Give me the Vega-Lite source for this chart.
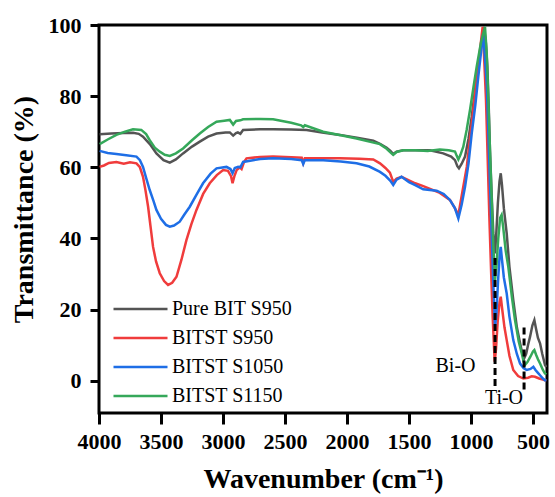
{
  "$schema": "https://vega.github.io/schema/vega-lite/v6.json",
  "width": 448,
  "height": 388,
  "autosize": {"type": "none"},
  "padding": {"left": 99, "top": 25, "right": 8, "bottom": 84},
  "background": "white",
  "config": {
    "view": {"stroke": "black", "strokeWidth": 3},
    "font": "Times New Roman, Liberation Serif, serif",
    "axis": {
      "labelFont": "Times New Roman, Liberation Serif, serif",
      "labelFontWeight": "bold",
      "labelFontSize": 22,
      "labelColor": "black",
      "titleFont": "Times New Roman, Liberation Serif, serif",
      "titleFontWeight": "bold",
      "titleFontSize": 28,
      "titleColor": "black",
      "domain": false,
      "grid": false,
      "tickColor": "black",
      "tickWidth": 3
    },
    "legend": {
      "labelFont": "Times New Roman, Liberation Serif, serif",
      "labelFontSize": 20,
      "labelColor": "black"
    }
  },
  "datasets": {
    "spectra": [
      {"series": "Pure BIT S950", "wn": 3995, "t": 69.3},
      {"series": "Pure BIT S950", "wn": 3900, "t": 69.5},
      {"series": "Pure BIT S950", "wn": 3800, "t": 69.6},
      {"series": "Pure BIT S950", "wn": 3726, "t": 69.7},
      {"series": "Pure BIT S950", "wn": 3680, "t": 69.4},
      {"series": "Pure BIT S950", "wn": 3645, "t": 68.6},
      {"series": "Pure BIT S950", "wn": 3590, "t": 66.5},
      {"series": "Pure BIT S950", "wn": 3537, "t": 63.9},
      {"series": "Pure BIT S950", "wn": 3480, "t": 62.0},
      {"series": "Pure BIT S950", "wn": 3429, "t": 61.3},
      {"series": "Pure BIT S950", "wn": 3380, "t": 62.2},
      {"series": "Pure BIT S950", "wn": 3322, "t": 63.9},
      {"series": "Pure BIT S950", "wn": 3250, "t": 65.8},
      {"series": "Pure BIT S950", "wn": 3187, "t": 67.2},
      {"series": "Pure BIT S950", "wn": 3120, "t": 68.6},
      {"series": "Pure BIT S950", "wn": 3052, "t": 69.5},
      {"series": "Pure BIT S950", "wn": 2980, "t": 69.8},
      {"series": "Pure BIT S950", "wn": 2945, "t": 69.8},
      {"series": "Pure BIT S950", "wn": 2918, "t": 68.9},
      {"series": "Pure BIT S950", "wn": 2895, "t": 69.6},
      {"series": "Pure BIT S950", "wn": 2880, "t": 69.8},
      {"series": "Pure BIT S950", "wn": 2860, "t": 69.4},
      {"series": "Pure BIT S950", "wn": 2838, "t": 70.5},
      {"series": "Pure BIT S950", "wn": 2700, "t": 70.7},
      {"series": "Pure BIT S950", "wn": 2596, "t": 70.7},
      {"series": "Pure BIT S950", "wn": 2450, "t": 70.6},
      {"series": "Pure BIT S950", "wn": 2326, "t": 70.5},
      {"series": "Pure BIT S950", "wn": 2200, "t": 69.8},
      {"series": "Pure BIT S950", "wn": 2057, "t": 69.1},
      {"series": "Pure BIT S950", "wn": 1920, "t": 68.3},
      {"series": "Pure BIT S950", "wn": 1788, "t": 67.5},
      {"series": "Pure BIT S950", "wn": 1734, "t": 66.6},
      {"series": "Pure BIT S950", "wn": 1680, "t": 65.5},
      {"series": "Pure BIT S950", "wn": 1650, "t": 64.6},
      {"series": "Pure BIT S950", "wn": 1627, "t": 63.7},
      {"series": "Pure BIT S950", "wn": 1600, "t": 64.4},
      {"series": "Pure BIT S950", "wn": 1546, "t": 64.8},
      {"series": "Pure BIT S950", "wn": 1450, "t": 64.8},
      {"series": "Pure BIT S950", "wn": 1331, "t": 64.8},
      {"series": "Pure BIT S950", "wn": 1224, "t": 63.9},
      {"series": "Pure BIT S950", "wn": 1160, "t": 63.0},
      {"series": "Pure BIT S950", "wn": 1129, "t": 62.0},
      {"series": "Pure BIT S950", "wn": 1110, "t": 60.3},
      {"series": "Pure BIT S950", "wn": 1097, "t": 59.7},
      {"series": "Pure BIT S950", "wn": 1075, "t": 61.0},
      {"series": "Pure BIT S950", "wn": 1048, "t": 63.0},
      {"series": "Pure BIT S950", "wn": 1020, "t": 68.0},
      {"series": "Pure BIT S950", "wn": 994, "t": 74.2},
      {"series": "Pure BIT S950", "wn": 970, "t": 81.0},
      {"series": "Pure BIT S950", "wn": 941, "t": 88.3},
      {"series": "Pure BIT S950", "wn": 915, "t": 95.0},
      {"series": "Pure BIT S950", "wn": 895, "t": 99.5},
      {"series": "Pure BIT S950", "wn": 880, "t": 95.0},
      {"series": "Pure BIT S950", "wn": 868, "t": 88.3},
      {"series": "Pure BIT S950", "wn": 857, "t": 77.0},
      {"series": "Pure BIT S950", "wn": 847, "t": 64.8},
      {"series": "Pure BIT S950", "wn": 833, "t": 52.0},
      {"series": "Pure BIT S950", "wn": 820, "t": 41.4},
      {"series": "Pure BIT S950", "wn": 806, "t": 35.8},
      {"series": "Pure BIT S950", "wn": 795, "t": 42.0},
      {"series": "Pure BIT S950", "wn": 783, "t": 50.0},
      {"series": "Pure BIT S950", "wn": 770, "t": 56.0},
      {"series": "Pure BIT S950", "wn": 760, "t": 58.3},
      {"series": "Pure BIT S950", "wn": 750, "t": 55.0},
      {"series": "Pure BIT S950", "wn": 735, "t": 48.5},
      {"series": "Pure BIT S950", "wn": 712, "t": 41.4},
      {"series": "Pure BIT S950", "wn": 690, "t": 32.0},
      {"series": "Pure BIT S950", "wn": 659, "t": 22.6},
      {"series": "Pure BIT S950", "wn": 630, "t": 15.0},
      {"series": "Pure BIT S950", "wn": 604, "t": 10.5},
      {"series": "Pure BIT S950", "wn": 585, "t": 7.5},
      {"series": "Pure BIT S950", "wn": 572, "t": 6.2},
      {"series": "Pure BIT S950", "wn": 555, "t": 7.5},
      {"series": "Pure BIT S950", "wn": 540, "t": 10.0},
      {"series": "Pure BIT S950", "wn": 524, "t": 12.3},
      {"series": "Pure BIT S950", "wn": 505, "t": 15.5},
      {"series": "Pure BIT S950", "wn": 489, "t": 17.0},
      {"series": "Pure BIT S950", "wn": 475, "t": 14.5},
      {"series": "Pure BIT S950", "wn": 460, "t": 12.0},
      {"series": "Pure BIT S950", "wn": 443, "t": 10.5},
      {"series": "Pure BIT S950", "wn": 425, "t": 7.5},
      {"series": "Pure BIT S950", "wn": 403, "t": 4.4},
      {"series": "Pure BIT S950", "wn": 392, "t": 3.8},

      {"series": "BITST S950", "wn": 3995, "t": 60.1},
      {"series": "BITST S950", "wn": 3960, "t": 60.5},
      {"series": "BITST S950", "wn": 3920, "t": 61.2},
      {"series": "BITST S950", "wn": 3860, "t": 61.5},
      {"series": "BITST S950", "wn": 3800, "t": 61.0},
      {"series": "BITST S950", "wn": 3750, "t": 61.4},
      {"series": "BITST S950", "wn": 3698, "t": 61.1},
      {"series": "BITST S950", "wn": 3670, "t": 60.0},
      {"series": "BITST S950", "wn": 3645, "t": 57.3},
      {"series": "BITST S950", "wn": 3625, "t": 53.5},
      {"series": "BITST S950", "wn": 3604, "t": 48.9},
      {"series": "BITST S950", "wn": 3585, "t": 43.5},
      {"series": "BITST S950", "wn": 3564, "t": 37.6},
      {"series": "BITST S950", "wn": 3540, "t": 33.5},
      {"series": "BITST S950", "wn": 3510, "t": 30.2},
      {"series": "BITST S950", "wn": 3475, "t": 28.0},
      {"series": "BITST S950", "wn": 3443, "t": 26.9},
      {"series": "BITST S950", "wn": 3410, "t": 27.5},
      {"series": "BITST S950", "wn": 3375, "t": 29.2},
      {"series": "BITST S950", "wn": 3335, "t": 34.0},
      {"series": "BITST S950", "wn": 3295, "t": 39.5},
      {"series": "BITST S950", "wn": 3255, "t": 44.0},
      {"series": "BITST S950", "wn": 3214, "t": 48.0},
      {"series": "BITST S950", "wn": 3160, "t": 52.5},
      {"series": "BITST S950", "wn": 3107, "t": 55.5},
      {"series": "BITST S950", "wn": 3050, "t": 57.8},
      {"series": "BITST S950", "wn": 2999, "t": 59.2},
      {"series": "BITST S950", "wn": 2960, "t": 59.0},
      {"series": "BITST S950", "wn": 2935, "t": 57.5},
      {"series": "BITST S950", "wn": 2923, "t": 55.5},
      {"series": "BITST S950", "wn": 2908, "t": 57.5},
      {"series": "BITST S950", "wn": 2890, "t": 59.2},
      {"series": "BITST S950", "wn": 2865, "t": 60.0},
      {"series": "BITST S950", "wn": 2850, "t": 59.5},
      {"series": "BITST S950", "wn": 2830, "t": 61.5},
      {"series": "BITST S950", "wn": 2810, "t": 62.5},
      {"series": "BITST S950", "wn": 2700, "t": 62.9},
      {"series": "BITST S950", "wn": 2596, "t": 63.0},
      {"series": "BITST S950", "wn": 2450, "t": 62.8},
      {"series": "BITST S950", "wn": 2365, "t": 62.7},
      {"series": "BITST S950", "wn": 2353, "t": 61.2},
      {"series": "BITST S950", "wn": 2340, "t": 62.5},
      {"series": "BITST S950", "wn": 2200, "t": 62.5},
      {"series": "BITST S950", "wn": 2057, "t": 62.5},
      {"series": "BITST S950", "wn": 1900, "t": 62.4},
      {"series": "BITST S950", "wn": 1788, "t": 62.2},
      {"series": "BITST S950", "wn": 1734, "t": 61.1},
      {"series": "BITST S950", "wn": 1690, "t": 59.8},
      {"series": "BITST S950", "wn": 1654, "t": 58.5},
      {"series": "BITST S950", "wn": 1627, "t": 55.9},
      {"series": "BITST S950", "wn": 1600, "t": 56.8},
      {"series": "BITST S950", "wn": 1560, "t": 57.3},
      {"series": "BITST S950", "wn": 1450, "t": 55.5},
      {"series": "BITST S950", "wn": 1385, "t": 54.7},
      {"series": "BITST S950", "wn": 1251, "t": 52.8},
      {"series": "BITST S950", "wn": 1170, "t": 50.8},
      {"series": "BITST S950", "wn": 1130, "t": 48.5},
      {"series": "BITST S950", "wn": 1102, "t": 46.6},
      {"series": "BITST S950", "wn": 1070, "t": 53.0},
      {"series": "BITST S950", "wn": 1034, "t": 60.1},
      {"series": "BITST S950", "wn": 1008, "t": 68.0},
      {"series": "BITST S950", "wn": 981, "t": 76.1},
      {"series": "BITST S950", "wn": 955, "t": 85.0},
      {"series": "BITST S950", "wn": 927, "t": 93.0},
      {"series": "BITST S950", "wn": 906, "t": 99.5},
      {"series": "BITST S950", "wn": 893, "t": 90.0},
      {"series": "BITST S950", "wn": 879, "t": 78.9},
      {"series": "BITST S950", "wn": 865, "t": 62.0},
      {"series": "BITST S950", "wn": 852, "t": 46.1},
      {"series": "BITST S950", "wn": 838, "t": 31.0},
      {"series": "BITST S950", "wn": 825, "t": 17.9},
      {"series": "BITST S950", "wn": 809, "t": 5.3},
      {"series": "BITST S950", "wn": 798, "t": 9.0},
      {"series": "BITST S950", "wn": 785, "t": 16.5},
      {"series": "BITST S950", "wn": 770, "t": 22.0},
      {"series": "BITST S950", "wn": 760, "t": 23.6},
      {"series": "BITST S950", "wn": 748, "t": 20.0},
      {"series": "BITST S950", "wn": 730, "t": 15.0},
      {"series": "BITST S950", "wn": 712, "t": 11.4},
      {"series": "BITST S950", "wn": 690, "t": 7.0},
      {"series": "BITST S950", "wn": 659, "t": 3.0},
      {"series": "BITST S950", "wn": 620, "t": 1.3},
      {"series": "BITST S950", "wn": 578, "t": 0.6},
      {"series": "BITST S950", "wn": 540, "t": 0.8},
      {"series": "BITST S950", "wn": 510, "t": 1.2},
      {"series": "BITST S950", "wn": 484, "t": 1.1},
      {"series": "BITST S950", "wn": 450, "t": 0.6},
      {"series": "BITST S950", "wn": 420, "t": 0.3},
      {"series": "BITST S950", "wn": 403, "t": 0.1},
      {"series": "BITST S950", "wn": 392, "t": 0.0},

      {"series": "BITST S1050", "wn": 3995, "t": 64.6},
      {"series": "BITST S1050", "wn": 3930, "t": 64.0},
      {"series": "BITST S1050", "wn": 3860, "t": 63.7},
      {"series": "BITST S1050", "wn": 3780, "t": 63.4},
      {"series": "BITST S1050", "wn": 3698, "t": 63.0},
      {"series": "BITST S1050", "wn": 3670, "t": 62.0},
      {"series": "BITST S1050", "wn": 3645, "t": 60.1},
      {"series": "BITST S1050", "wn": 3620, "t": 57.0},
      {"series": "BITST S1050", "wn": 3591, "t": 53.6},
      {"series": "BITST S1050", "wn": 3560, "t": 50.5},
      {"series": "BITST S1050", "wn": 3537, "t": 48.0},
      {"series": "BITST S1050", "wn": 3500, "t": 45.5},
      {"series": "BITST S1050", "wn": 3460, "t": 43.8},
      {"series": "BITST S1050", "wn": 3429, "t": 43.3},
      {"series": "BITST S1050", "wn": 3395, "t": 43.6},
      {"series": "BITST S1050", "wn": 3349, "t": 44.7},
      {"series": "BITST S1050", "wn": 3310, "t": 46.8},
      {"series": "BITST S1050", "wn": 3268, "t": 48.9},
      {"series": "BITST S1050", "wn": 3210, "t": 52.5},
      {"series": "BITST S1050", "wn": 3161, "t": 55.5},
      {"series": "BITST S1050", "wn": 3100, "t": 58.2},
      {"series": "BITST S1050", "wn": 3052, "t": 59.7},
      {"series": "BITST S1050", "wn": 2972, "t": 60.1},
      {"series": "BITST S1050", "wn": 2940, "t": 59.5},
      {"series": "BITST S1050", "wn": 2923, "t": 58.3},
      {"series": "BITST S1050", "wn": 2905, "t": 59.8},
      {"series": "BITST S1050", "wn": 2878, "t": 60.1},
      {"series": "BITST S1050", "wn": 2860, "t": 60.0},
      {"series": "BITST S1050", "wn": 2838, "t": 61.5},
      {"series": "BITST S1050", "wn": 2700, "t": 62.3},
      {"series": "BITST S1050", "wn": 2596, "t": 62.5},
      {"series": "BITST S1050", "wn": 2450, "t": 62.3},
      {"series": "BITST S1050", "wn": 2365, "t": 62.0},
      {"series": "BITST S1050", "wn": 2353, "t": 60.9},
      {"series": "BITST S1050", "wn": 2340, "t": 62.0},
      {"series": "BITST S1050", "wn": 2192, "t": 62.0},
      {"series": "BITST S1050", "wn": 2050, "t": 61.6},
      {"series": "BITST S1050", "wn": 1923, "t": 61.1},
      {"series": "BITST S1050", "wn": 1820, "t": 60.2},
      {"series": "BITST S1050", "wn": 1734, "t": 58.7},
      {"series": "BITST S1050", "wn": 1690, "t": 57.6},
      {"series": "BITST S1050", "wn": 1650, "t": 56.2},
      {"series": "BITST S1050", "wn": 1627, "t": 55.0},
      {"series": "BITST S1050", "wn": 1600, "t": 56.5},
      {"series": "BITST S1050", "wn": 1560, "t": 57.3},
      {"series": "BITST S1050", "wn": 1500, "t": 55.8},
      {"series": "BITST S1050", "wn": 1450, "t": 55.0},
      {"series": "BITST S1050", "wn": 1385, "t": 53.8},
      {"series": "BITST S1050", "wn": 1277, "t": 53.4},
      {"series": "BITST S1050", "wn": 1220, "t": 52.5},
      {"series": "BITST S1050", "wn": 1170, "t": 50.8},
      {"series": "BITST S1050", "wn": 1130, "t": 48.5},
      {"series": "BITST S1050", "wn": 1102, "t": 45.6},
      {"series": "BITST S1050", "wn": 1075, "t": 49.5},
      {"series": "BITST S1050", "wn": 1048, "t": 54.5},
      {"series": "BITST S1050", "wn": 1020, "t": 61.0},
      {"series": "BITST S1050", "wn": 994, "t": 69.5},
      {"series": "BITST S1050", "wn": 965, "t": 77.5},
      {"series": "BITST S1050", "wn": 941, "t": 85.5},
      {"series": "BITST S1050", "wn": 920, "t": 92.0},
      {"series": "BITST S1050", "wn": 901, "t": 97.7},
      {"series": "BITST S1050", "wn": 888, "t": 91.0},
      {"series": "BITST S1050", "wn": 873, "t": 83.6},
      {"series": "BITST S1050", "wn": 860, "t": 70.0},
      {"series": "BITST S1050", "wn": 847, "t": 55.5},
      {"series": "BITST S1050", "wn": 833, "t": 41.0},
      {"series": "BITST S1050", "wn": 820, "t": 27.3},
      {"series": "BITST S1050", "wn": 806, "t": 15.1},
      {"series": "BITST S1050", "wn": 795, "t": 19.0},
      {"series": "BITST S1050", "wn": 780, "t": 29.0},
      {"series": "BITST S1050", "wn": 768, "t": 35.8},
      {"series": "BITST S1050", "wn": 760, "t": 37.6},
      {"series": "BITST S1050", "wn": 750, "t": 34.0},
      {"series": "BITST S1050", "wn": 735, "t": 29.0},
      {"series": "BITST S1050", "wn": 712, "t": 24.5},
      {"series": "BITST S1050", "wn": 690, "t": 18.0},
      {"series": "BITST S1050", "wn": 659, "t": 11.4},
      {"series": "BITST S1050", "wn": 630, "t": 7.5},
      {"series": "BITST S1050", "wn": 604, "t": 4.8},
      {"series": "BITST S1050", "wn": 575, "t": 3.5},
      {"series": "BITST S1050", "wn": 550, "t": 3.0},
      {"series": "BITST S1050", "wn": 520, "t": 3.3},
      {"series": "BITST S1050", "wn": 497, "t": 3.9},
      {"series": "BITST S1050", "wn": 480, "t": 3.0},
      {"series": "BITST S1050", "wn": 460, "t": 2.2},
      {"series": "BITST S1050", "wn": 443, "t": 1.5},
      {"series": "BITST S1050", "wn": 420, "t": 0.6},
      {"series": "BITST S1050", "wn": 403, "t": 0.1},
      {"series": "BITST S1050", "wn": 392, "t": 0.0},

      {"series": "BITST S1150", "wn": 3995, "t": 66.5},
      {"series": "BITST S1150", "wn": 3930, "t": 67.8},
      {"series": "BITST S1150", "wn": 3860, "t": 69.1},
      {"series": "BITST S1150", "wn": 3790, "t": 70.0},
      {"series": "BITST S1150", "wn": 3726, "t": 70.7},
      {"series": "BITST S1150", "wn": 3659, "t": 70.5},
      {"series": "BITST S1150", "wn": 3620, "t": 69.3},
      {"series": "BITST S1150", "wn": 3591, "t": 67.6},
      {"series": "BITST S1150", "wn": 3550, "t": 65.5},
      {"series": "BITST S1150", "wn": 3510, "t": 64.4},
      {"series": "BITST S1150", "wn": 3470, "t": 63.5},
      {"series": "BITST S1150", "wn": 3429, "t": 63.2},
      {"series": "BITST S1150", "wn": 3380, "t": 63.9},
      {"series": "BITST S1150", "wn": 3322, "t": 65.3},
      {"series": "BITST S1150", "wn": 3250, "t": 67.6},
      {"series": "BITST S1150", "wn": 3187, "t": 69.5},
      {"series": "BITST S1150", "wn": 3120, "t": 71.3},
      {"series": "BITST S1150", "wn": 3052, "t": 72.8},
      {"series": "BITST S1150", "wn": 2990, "t": 73.1},
      {"series": "BITST S1150", "wn": 2945, "t": 73.3},
      {"series": "BITST S1150", "wn": 2918, "t": 72.0},
      {"series": "BITST S1150", "wn": 2895, "t": 73.0},
      {"series": "BITST S1150", "wn": 2860, "t": 73.2},
      {"series": "BITST S1150", "wn": 2838, "t": 73.5},
      {"series": "BITST S1150", "wn": 2700, "t": 73.6},
      {"series": "BITST S1150", "wn": 2596, "t": 73.5},
      {"series": "BITST S1150", "wn": 2450, "t": 72.5},
      {"series": "BITST S1150", "wn": 2370, "t": 71.8},
      {"series": "BITST S1150", "wn": 2353, "t": 71.3},
      {"series": "BITST S1150", "wn": 2340, "t": 71.8},
      {"series": "BITST S1150", "wn": 2192, "t": 70.0},
      {"series": "BITST S1150", "wn": 2050, "t": 69.0},
      {"series": "BITST S1150", "wn": 1923, "t": 68.1},
      {"series": "BITST S1150", "wn": 1820, "t": 67.2},
      {"series": "BITST S1150", "wn": 1735, "t": 66.5},
      {"series": "BITST S1150", "wn": 1680, "t": 65.2},
      {"series": "BITST S1150", "wn": 1650, "t": 64.2},
      {"series": "BITST S1150", "wn": 1627, "t": 63.5},
      {"series": "BITST S1150", "wn": 1600, "t": 64.3},
      {"series": "BITST S1150", "wn": 1546, "t": 64.8},
      {"series": "BITST S1150", "wn": 1450, "t": 64.8},
      {"series": "BITST S1150", "wn": 1350, "t": 64.6},
      {"series": "BITST S1150", "wn": 1251, "t": 65.0},
      {"series": "BITST S1150", "wn": 1180, "t": 64.8},
      {"series": "BITST S1150", "wn": 1129, "t": 64.4},
      {"series": "BITST S1150", "wn": 1115, "t": 63.2},
      {"series": "BITST S1150", "wn": 1102, "t": 62.2},
      {"series": "BITST S1150", "wn": 1085, "t": 63.5},
      {"series": "BITST S1150", "wn": 1062, "t": 65.8},
      {"series": "BITST S1150", "wn": 1035, "t": 70.5},
      {"series": "BITST S1150", "wn": 1008, "t": 76.1},
      {"series": "BITST S1150", "wn": 980, "t": 82.5},
      {"series": "BITST S1150", "wn": 954, "t": 88.3},
      {"series": "BITST S1150", "wn": 920, "t": 95.0},
      {"series": "BITST S1150", "wn": 887, "t": 99.5},
      {"series": "BITST S1150", "wn": 873, "t": 92.0},
      {"series": "BITST S1150", "wn": 860, "t": 78.9},
      {"series": "BITST S1150", "wn": 847, "t": 65.0},
      {"series": "BITST S1150", "wn": 833, "t": 50.8},
      {"series": "BITST S1150", "wn": 820, "t": 38.0},
      {"series": "BITST S1150", "wn": 806, "t": 28.3},
      {"series": "BITST S1150", "wn": 795, "t": 32.0},
      {"series": "BITST S1150", "wn": 780, "t": 40.0},
      {"series": "BITST S1150", "wn": 765, "t": 45.8},
      {"series": "BITST S1150", "wn": 753, "t": 46.6},
      {"series": "BITST S1150", "wn": 740, "t": 43.0},
      {"series": "BITST S1150", "wn": 720, "t": 36.5},
      {"series": "BITST S1150", "wn": 699, "t": 32.0},
      {"series": "BITST S1150", "wn": 670, "t": 23.5},
      {"series": "BITST S1150", "wn": 645, "t": 17.0},
      {"series": "BITST S1150", "wn": 615, "t": 11.0},
      {"series": "BITST S1150", "wn": 591, "t": 7.7},
      {"series": "BITST S1150", "wn": 575, "t": 5.3},
      {"series": "BITST S1150", "wn": 564, "t": 4.4},
      {"series": "BITST S1150", "wn": 545, "t": 5.2},
      {"series": "BITST S1150", "wn": 520, "t": 6.8},
      {"series": "BITST S1150", "wn": 500, "t": 8.2},
      {"series": "BITST S1150", "wn": 489, "t": 8.6},
      {"series": "BITST S1150", "wn": 475, "t": 7.3},
      {"series": "BITST S1150", "wn": 460, "t": 6.0},
      {"series": "BITST S1150", "wn": 443, "t": 4.8},
      {"series": "BITST S1150", "wn": 420, "t": 3.0},
      {"series": "BITST S1150", "wn": 403, "t": 2.0},
      {"series": "BITST S1150", "wn": 392, "t": 1.8}
    ],
    "markers": [
      {"band": "Bi-O", "wn": 806, "lo": -1.5, "hi": 35},
      {"band": "Ti-O", "wn": 572, "lo": -2.5, "hi": 15}
    ],
    "labels": [
      {"text": "Bi-O", "wn": 1125, "t": 4.0},
      {"text": "Ti-O", "wn": 734, "t": -4.8}
    ]
  },
  "layer": [
    {
      "data": {"name": "spectra"},
      "mark": {"type": "line", "strokeWidth": 2.5, "clip": true},
      "encoding": {
        "x": {
          "field": "wn", "type": "quantitative",
          "scale": {"domain": [387, 4000], "reverse": true, "nice": false, "zero": false},
          "axis": {
            "title": "Wavenumber (cm⁻¹)",
            "values": [4000, 3500, 3000, 2500, 2000, 1500, 1000, 500],
            "format": "d",
            "tickSize": 11,
            "labelPadding": 7,
            "titlePadding": 13,
            "labelFlush": false
          }
        },
        "y": {
          "field": "t", "type": "quantitative",
          "scale": {"domain": [-9.1, 100], "nice": false, "zero": false},
          "axis": {
            "title": "Transmittance (%)",
            "values": [0, 20, 40, 60, 80, 100],
            "format": "d",
            "tickSize": 9,
            "labelPadding": 9,
            "titlePadding": 10,
            "titleY": 184,
            "labelFlush": false
          }
        },
        "color": {
          "field": "series", "type": "nominal",
          "scale": {
            "domain": ["Pure BIT S950", "BITST S950", "BITST S1050", "BITST S1150"],
            "range": ["#545454", "#f03c3c", "#1e6ee6", "#35a85a"]
          },
          "legend": {
            "title": null,
            "orient": "none",
            "legendX": 13,
            "legendY": 274,
            "symbolType": "stroke",
            "symbolSize": 2916,
            "symbolStrokeWidth": 2.5,
            "clipHeight": 20,
            "rowPadding": 9,
            "labelOffset": 3,
            "padding": 0
          }
        }
      }
    },
    {
      "data": {"name": "markers"},
      "mark": {"type": "rule", "color": "black", "strokeWidth": 3, "strokeDash": [7, 4]},
      "encoding": {
        "x": {"field": "wn", "type": "quantitative"},
        "y": {"field": "lo", "type": "quantitative"},
        "y2": {"field": "hi"}
      }
    },
    {
      "data": {"name": "labels"},
      "mark": {"type": "text", "font": "Times New Roman, Liberation Serif, serif", "fontSize": 20, "color": "black", "align": "center", "baseline": "middle"},
      "encoding": {
        "x": {"field": "wn", "type": "quantitative"},
        "y": {"field": "t", "type": "quantitative"},
        "text": {"field": "text"}
      }
    }
  ]
}
